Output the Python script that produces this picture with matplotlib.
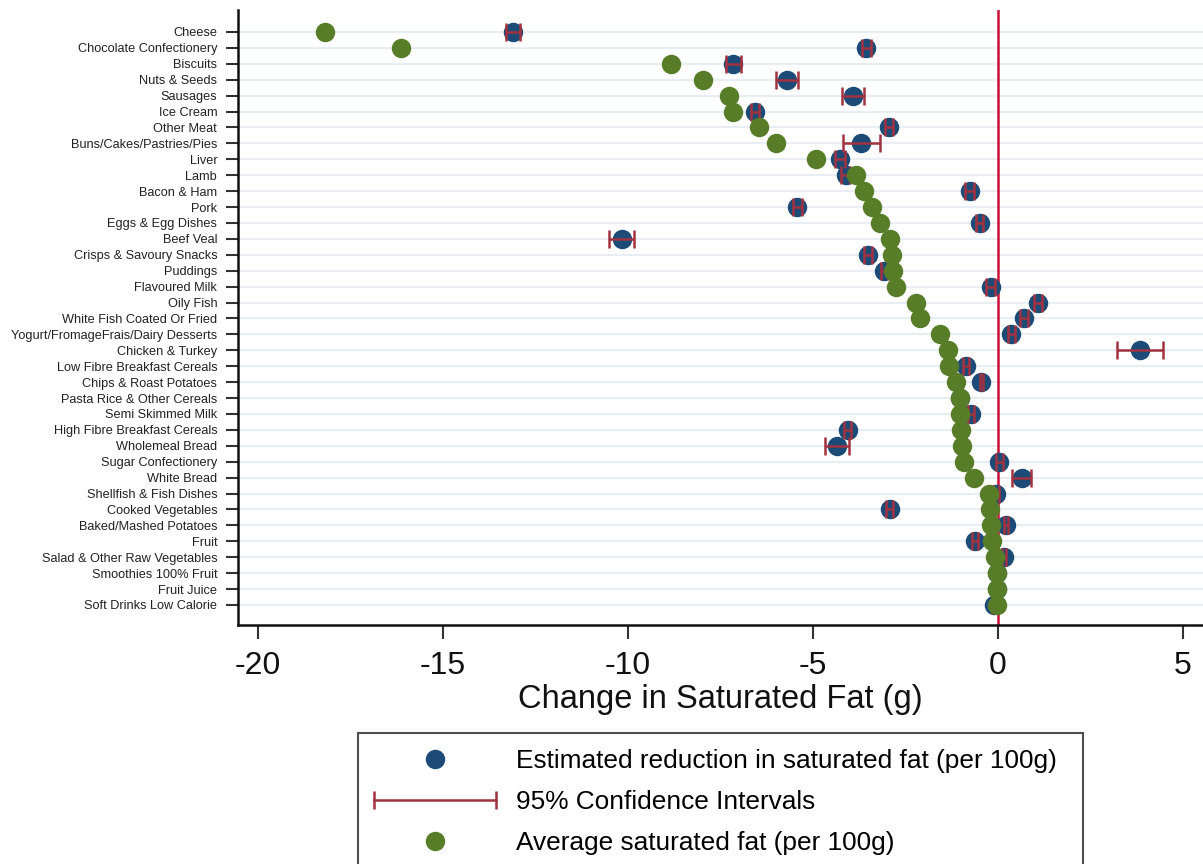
import matplotlib
matplotlib.use("Agg")
import matplotlib.pyplot as plt
from matplotlib.lines import Line2D
from matplotlib.legend_handler import HandlerLine2D
import numpy as np

plt.rcParams['font.family'] = ['Liberation Sans', 'DejaVu Sans']

categories = [
    "Cheese", "Chocolate Confectionery", "Biscuits", "Nuts & Seeds", "Sausages",
    "Ice Cream", "Other Meat", "Buns/Cakes/Pastries/Pies", "Liver", "Lamb",
    "Bacon & Ham", "Pork", "Eggs & Egg Dishes", "Beef Veal", "Crisps & Savoury Snacks",
    "Puddings", "Flavoured Milk", "Oily Fish", "White Fish Coated Or Fried",
    "Yogurt/FromageFrais/Dairy Desserts", "Chicken & Turkey", "Low Fibre Breakfast Cereals",
    "Chips & Roast Potatoes", "Pasta Rice & Other Cereals", "Semi Skimmed Milk",
    "High Fibre Breakfast Cereals", "Wholemeal Bread", "Sugar Confectionery", "White Bread",
    "Shellfish & Fish Dishes", "Cooked Vegetables", "Baked/Mashed Potatoes", "Fruit",
    "Salad & Other Raw Vegetables", "Smoothies 100% Fruit", "Fruit Juice",
    "Soft Drinks Low Calorie",
]

avg_sat_fat = [
    -18.19, -16.14, -8.83, -7.98, -7.26, -7.17, -6.46, -6.00, -4.91, -3.84,
    -3.62, -3.40, -3.18, -2.93, -2.87, -2.84, -2.75, -2.22, -2.12, -1.57,
    -1.36, -1.32, -1.13, -1.04, -1.02, -1.01, -0.97, -0.91, -0.65, -0.24,
    -0.21, -0.18, -0.16, -0.08, -0.02, -0.02, -0.02,
]

est_reduction = [
    -13.11, -3.56, -7.15, -5.71, -3.91, -6.57, -2.95, -3.69, -4.27, -4.11,
    -0.76, -5.42, -0.50, -10.17, -3.51, -3.07, -0.20, 1.08, 0.70, 0.36,
    3.84, -0.87, -0.45, -1.04, -0.73, -4.06, -4.36, 0.04, 0.64, -0.05,
    -2.93, 0.21, -0.63, 0.16, -0.02, -0.02, -0.10,
]

ci_half = [
    0.20, 0.12, 0.21, 0.30, 0.30, 0.11, 0.11, 0.49, 0.14, 0.12,
    0.12, 0.12, 0.10, 0.33, 0.10, 0.10, 0.12, 0.10, 0.10, 0.10,
    0.63, 0.08, 0.05, 0.10, 0.08, 0.10, 0.32, 0.10, 0.26, 0.08,
    0.10, 0.05, 0.08, 0.05, 0.05, 0.05, 0.05,
]

x_ticks = [-20, -15, -10, -5, 0, 5]

GREEN = '#587d29'
BLUE = '#1c4b78'
CI_COL = '#a2323f'
RED = '#cc1138'
GRID = '#e8eef3'

fig = plt.figure(figsize=(12.03, 8.64), dpi=100)
ax = fig.add_axes([238/1203, 1 - 625/864, (1203 - 238)/1203, (625 - 10)/864])

ypos = np.arange(len(categories))

for y in ypos:
    ax.axhline(y, color=GRID, lw=1.6, zorder=0)

ax.axvline(0, color=RED, lw=1.8, zorder=1)

ax.plot(est_reduction, ypos, 'o', ms=13, color=BLUE, mec=BLUE, zorder=2)
ax.errorbar(est_reduction, ypos, xerr=ci_half, fmt='none', ecolor=CI_COL,
            elinewidth=1.8, capsize=6.3, capthick=1.8, zorder=3)
ax.plot(avg_sat_fat, ypos, 'o', ms=13, color=GREEN, mec=GREEN, zorder=4)

ax.set_xlim(-20.54, 5.54)
ax.set_ylim(len(categories) - 1 + 1.26, -1.38)

ax.set_yticks(ypos)
ax.set_yticklabels(categories, fontsize=9.2, color='#222222')
ax.set_xticks(x_ticks)
ax.set_xticklabels([str(t) for t in x_ticks], fontsize=23, color='#111111')
ax.tick_params(axis='y', length=9, width=1.5, color='#333333', pad=6)
ax.tick_params(axis='x', length=10, width=1.5, color='#333333', pad=9)
ax.set_xlabel('Change in Saturated Fat (g)', fontsize=23.5, color='#111111', labelpad=2)

for s in ['top', 'right']:
    ax.spines[s].set_visible(False)
for s in ['left', 'bottom']:
    ax.spines[s].set_linewidth(1.8)
    ax.spines[s].set_color('#111111')

h_est = Line2D([], [], marker='o', ls='none', ms=13, color=BLUE)
h_ci = Line2D([], [], marker='|', ls='-', lw=1.8, ms=13, mew=1.8, color=CI_COL)
h_avg = Line2D([], [], marker='o', ls='none', ms=13, color=GREEN)

leg = fig.legend(
    [h_est, h_ci, h_avg],
    ['Estimated reduction in saturated fat (per 100g)', '95% Confidence Intervals',
     'Average saturated fat (per 100g)'],
    loc='upper left', bbox_to_anchor=(358/1203, 1 - 733/864 - 0.3, (1083 - 358)/1203, 0.3),
    bbox_transform=fig.transFigure, mode='expand', borderaxespad=0,
    fontsize=18.9, frameon=True, fancybox=False, edgecolor='#222222',
    handlelength=4.65, handletextpad=0.76, labelspacing=0.65, borderpad=0.6,
    handler_map={h_ci: HandlerLine2D(numpoints=2, marker_pad=0),
                 h_est: HandlerLine2D(numpoints=1),
                 h_avg: HandlerLine2D(numpoints=1)},
)
leg.get_frame().set_linewidth(1.5)

fig.savefig('out.png', dpi=100)
